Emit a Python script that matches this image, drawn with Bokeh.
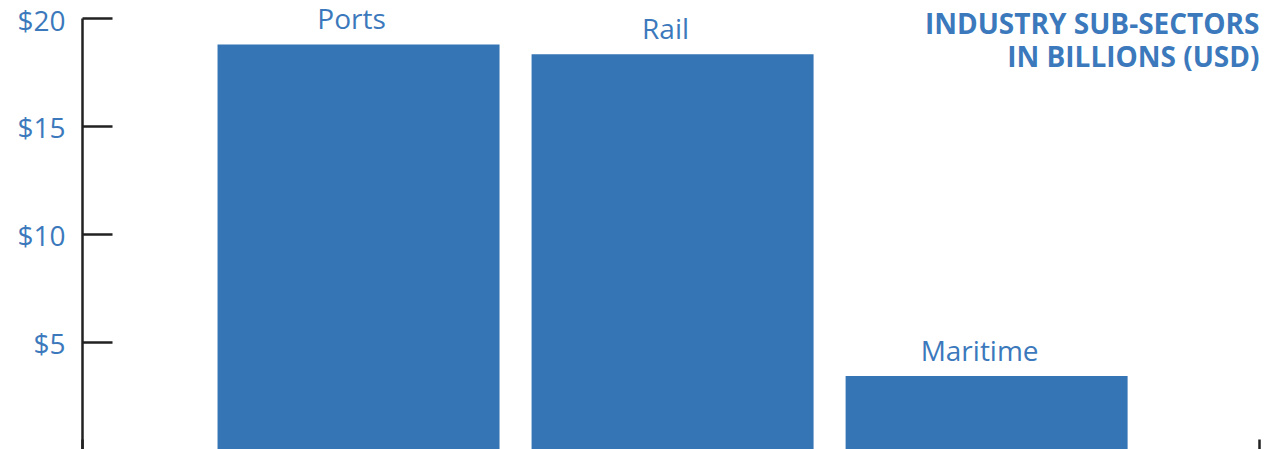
from bokeh.plotting import figure
from bokeh.models import Range1d, FixedTicker, Label, ColumnDataSource
from bokeh.core.properties import value
from bokeh.embed import file_html
from bokeh.resources import INLINE

# ---- data ----
categories = ["Ports", "Rail", "Maritime"]
values = [18.8, 18.35, 3.45]
y_ticks = [5, 10, 15, 20]
y_tick_labels = ["$5", "$10", "$15", "$20"]
title_lines = ["INDUSTRY SUB-SECTORS", "IN BILLIONS (USD)"]

BAR = "#3575B5"
TXT = "#3B79BC"
FONT = "Open Sans"

xs = list(range(len(categories)))
src = ColumnDataSource(dict(x=xs, top=values, label=categories))

x_start, x_end = -0.879, 2.869
y_top = 20.833
p = figure(width=1261, height=449, output_backend="svg", toolbar_location=None,
           x_range=Range1d(x_start, x_end), y_range=Range1d(0.05, y_top),
           min_border_left=82, min_border_right=2, min_border_top=0, min_border_bottom=0)
p.outline_line_color = None
p.xgrid.visible = False
p.ygrid.visible = False
p.background_fill_color = "white"
p.border_fill_color = "white"

p.vbar(x="x", top="top", bottom=0, width=0.898, source=src, fill_color=BAR, line_color=None)
p.text(x="x", y="top", text="label", source=src, x_offset=-7, y_offset=-26,
       text_align="center", text_baseline="alphabetic", text_font=value(FONT),
       text_font_size="28px", text_color=TXT)

# y axis
ya = p.yaxis[0]
ya.ticker = FixedTicker(ticks=y_ticks)
ya.bounds = (0, max(y_ticks))
ya.major_label_overrides = {t: l for t, l in zip(y_ticks, y_tick_labels)}
ya.major_tick_in = 30
ya.major_tick_out = 0
ya.minor_tick_line_color = None
ya.axis_line_color = "#222222"
ya.axis_line_width = 2.5
ya.major_tick_line_color = "#222222"
ya.major_tick_line_width = 2.5
ya.major_label_text_color = TXT
ya.major_label_text_font = FONT
ya.major_label_text_font_size = "28px"
ya.major_label_standoff = 17

# x axis: only end ticks, pointing up, no labels
xa = p.xaxis[0]
xa.ticker = FixedTicker(ticks=[x_start, x_end])
xa.major_label_overrides = {x_start: "", x_end: ""}
xa.axis_line_color = None
xa.major_tick_in = 10
xa.major_tick_out = 0
xa.major_tick_line_color = "#222222"
xa.major_tick_line_width = 2.5
xa.minor_tick_line_color = None
xa.major_label_standoff = 0

p.add_layout(Label(x=x_end, y=y_top, text="\n".join(title_lines), text_align="right",
                   text_baseline="top", y_offset=-3, text_font=FONT, text_font_size="28px",
                   text_font_style="bold", text_color=TXT, text_line_height=0.87))

open("out.html", "w").write(file_html(p, INLINE))
